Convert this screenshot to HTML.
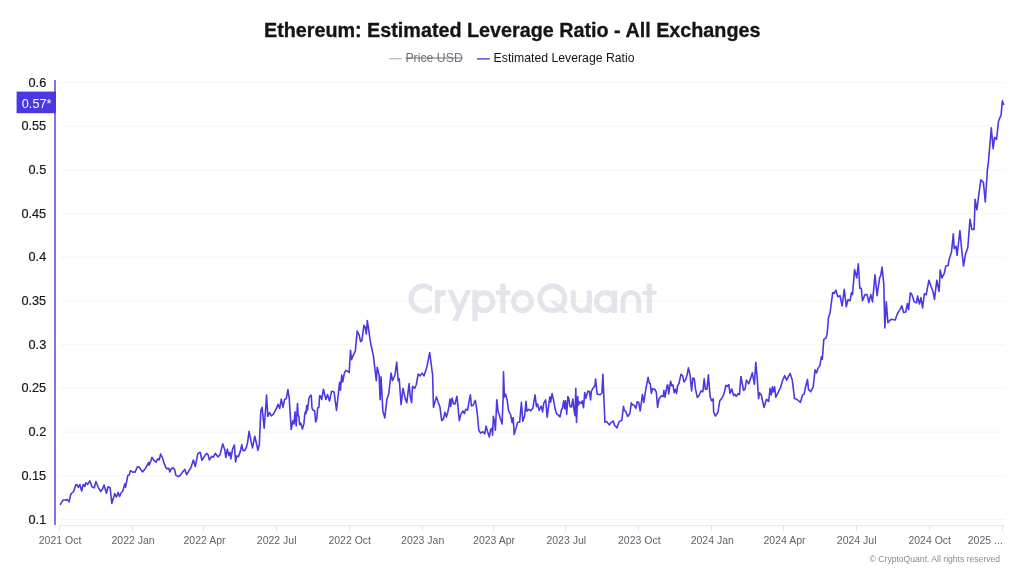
<!DOCTYPE html>
<html><head><meta charset="utf-8"><title>Ethereum: Estimated Leverage Ratio - All Exchanges</title>
<style>html,body{margin:0;padding:0;background:#fff;}body{width:1024px;height:576px;overflow:hidden;font-family:"Liberation Sans", sans-serif;}svg{display:block;will-change:transform}</style>
</head><body>
<svg width="1024" height="576" viewBox="0 0 1024 576">
<rect x="60" y="82.00" width="945" height="1" fill="#f5f5f8"/>
<rect x="60" y="125.70" width="945" height="1" fill="#f5f5f8"/>
<rect x="60" y="169.40" width="945" height="1" fill="#f5f5f8"/>
<rect x="60" y="213.10" width="945" height="1" fill="#f5f5f8"/>
<rect x="60" y="256.80" width="945" height="1" fill="#f5f5f8"/>
<rect x="60" y="300.50" width="945" height="1" fill="#f5f5f8"/>
<rect x="60" y="344.20" width="945" height="1" fill="#f5f5f8"/>
<rect x="60" y="387.90" width="945" height="1" fill="#f5f5f8"/>
<rect x="60" y="431.60" width="945" height="1" fill="#f5f5f8"/>
<rect x="60" y="475.30" width="945" height="1" fill="#f5f5f8"/>
<rect x="60" y="519.00" width="945" height="1" fill="#f5f5f8"/>
<g opacity="0.5"><clipPath id="cc"><rect x="400" y="270" width="32" height="60"/></clipPath><path clip-path="url(#cc)" d="M432.99 290.45 A12.45 12.45 0 1 0 432.99 306.45" fill="none" stroke="#c9c9d9" stroke-width="5.2"/><rect x="435" y="290" width="5.1" height="23.1" fill="#c9c9d9"/><path d="M437.55 299 Q437.55 292.7 445.7 292.7" fill="none" stroke="#c9c9d9" stroke-width="5.4"/><polygon points="465.7,290 471.3,290 457.7,321.1 452.1,321.1" fill="#c9c9d9"/><polygon points="447.3,290 452.9,290 462.1,311 456.5,311" fill="#c9c9d9"/><rect x="472.4" y="290" width="5.2" height="31.1" fill="#c9c9d9"/><circle cx="483.95" cy="301.55" r="8.95" fill="none" stroke="#c9c9d9" stroke-width="5.2"/><rect x="500.3" y="283.6" width="5.2" height="29.5" fill="#c9c9d9"/><rect x="496" y="290.4" width="14.3" height="4.8" fill="#c9c9d9"/><circle cx="522.4" cy="301.55" r="8.9" fill="none" stroke="#c9c9d9" stroke-width="5.2"/><circle cx="552.35" cy="298.4" r="12.35" fill="none" stroke="#c9c9d9" stroke-width="5.2"/><polygon points="550.2,301.2 555.8,301.2 568.5,312.9 562.5,312.9" fill="#c9c9d9"/><path d="M573.3 290.4 V302.7 A7.9 7.9 0 0 0 589.3 302.7 V290.4" fill="none" stroke="#c9c9d9" stroke-width="4.9"/><rect x="586.9" y="295" width="4.8" height="18.1" fill="#c9c9d9"/><circle cx="605.5" cy="301.55" r="8.9" fill="none" stroke="#c9c9d9" stroke-width="5.2"/><rect x="612" y="290.4" width="5.1" height="22.7" fill="#c9c9d9"/><path d="M623.1 313.1 V300.2 A7.75 7.75 0 0 1 638.7 300.2 V313.1" fill="none" stroke="#c9c9d9" stroke-width="4.9"/><rect x="646.7" y="283.6" width="5.2" height="29.5" fill="#c9c9d9"/><rect x="642.3" y="290.8" width="14.4" height="4.2" fill="#c9c9d9"/></g>
<rect x="59" y="525" width="946" height="1" fill="#e7e7ee"/>
<rect x="59" y="525" width="1" height="6" fill="#e2e2ea"/>
<text x="60.1" y="544.4" text-anchor="middle" font-family='"Liberation Sans", sans-serif' font-size="10.5" fill="#62626e">2021 Oct</text>
<rect x="132" y="525" width="1" height="6" fill="#e2e2ea"/>
<text x="133.1" y="544.4" text-anchor="middle" font-family='"Liberation Sans", sans-serif' font-size="10.5" fill="#62626e">2022 Jan</text>
<rect x="203" y="525" width="1" height="6" fill="#e2e2ea"/>
<text x="204.5" y="544.4" text-anchor="middle" font-family='"Liberation Sans", sans-serif' font-size="10.5" fill="#62626e">2022 Apr</text>
<rect x="276" y="525" width="1" height="6" fill="#e2e2ea"/>
<text x="276.7" y="544.4" text-anchor="middle" font-family='"Liberation Sans", sans-serif' font-size="10.5" fill="#62626e">2022 Jul</text>
<rect x="349" y="525" width="1" height="6" fill="#e2e2ea"/>
<text x="349.7" y="544.4" text-anchor="middle" font-family='"Liberation Sans", sans-serif' font-size="10.5" fill="#62626e">2022 Oct</text>
<rect x="422" y="525" width="1" height="6" fill="#e2e2ea"/>
<text x="422.7" y="544.4" text-anchor="middle" font-family='"Liberation Sans", sans-serif' font-size="10.5" fill="#62626e">2023 Jan</text>
<rect x="493" y="525" width="1" height="6" fill="#e2e2ea"/>
<text x="494.1" y="544.4" text-anchor="middle" font-family='"Liberation Sans", sans-serif' font-size="10.5" fill="#62626e">2023 Apr</text>
<rect x="565" y="525" width="1" height="6" fill="#e2e2ea"/>
<text x="566.3" y="544.4" text-anchor="middle" font-family='"Liberation Sans", sans-serif' font-size="10.5" fill="#62626e">2023 Jul</text>
<rect x="638" y="525" width="1" height="6" fill="#e2e2ea"/>
<text x="639.3" y="544.4" text-anchor="middle" font-family='"Liberation Sans", sans-serif' font-size="10.5" fill="#62626e">2023 Oct</text>
<rect x="711" y="525" width="1" height="6" fill="#e2e2ea"/>
<text x="712.3" y="544.4" text-anchor="middle" font-family='"Liberation Sans", sans-serif' font-size="10.5" fill="#62626e">2024 Jan</text>
<rect x="783" y="525" width="1" height="6" fill="#e2e2ea"/>
<text x="784.5" y="544.4" text-anchor="middle" font-family='"Liberation Sans", sans-serif' font-size="10.5" fill="#62626e">2024 Apr</text>
<rect x="856" y="525" width="1" height="6" fill="#e2e2ea"/>
<text x="856.7" y="544.4" text-anchor="middle" font-family='"Liberation Sans", sans-serif' font-size="10.5" fill="#62626e">2024 Jul</text>
<rect x="929" y="525" width="1" height="6" fill="#e2e2ea"/>
<text x="929.7" y="544.4" text-anchor="middle" font-family='"Liberation Sans", sans-serif' font-size="10.5" fill="#62626e">2024 Oct</text>
<rect x="1002" y="525" width="1" height="6" fill="#e2e2ea"/>
<text x="1002.8" y="544.4" text-anchor="end" font-family='"Liberation Sans", sans-serif' font-size="10.5" fill="#62626e">2025 ...</text>
<text x="46.2" y="86.5" text-anchor="end" font-family='"Liberation Sans", sans-serif' font-size="12.7" fill="#18181c" stroke="#18181c" stroke-width="0.2">0.6</text>
<text x="46.2" y="130.2" text-anchor="end" font-family='"Liberation Sans", sans-serif' font-size="12.7" fill="#18181c" stroke="#18181c" stroke-width="0.2">0.55</text>
<text x="46.2" y="173.9" text-anchor="end" font-family='"Liberation Sans", sans-serif' font-size="12.7" fill="#18181c" stroke="#18181c" stroke-width="0.2">0.5</text>
<text x="46.2" y="217.6" text-anchor="end" font-family='"Liberation Sans", sans-serif' font-size="12.7" fill="#18181c" stroke="#18181c" stroke-width="0.2">0.45</text>
<text x="46.2" y="261.3" text-anchor="end" font-family='"Liberation Sans", sans-serif' font-size="12.7" fill="#18181c" stroke="#18181c" stroke-width="0.2">0.4</text>
<text x="46.2" y="305.0" text-anchor="end" font-family='"Liberation Sans", sans-serif' font-size="12.7" fill="#18181c" stroke="#18181c" stroke-width="0.2">0.35</text>
<text x="46.2" y="348.7" text-anchor="end" font-family='"Liberation Sans", sans-serif' font-size="12.7" fill="#18181c" stroke="#18181c" stroke-width="0.2">0.3</text>
<text x="46.2" y="392.4" text-anchor="end" font-family='"Liberation Sans", sans-serif' font-size="12.7" fill="#18181c" stroke="#18181c" stroke-width="0.2">0.25</text>
<text x="46.2" y="436.1" text-anchor="end" font-family='"Liberation Sans", sans-serif' font-size="12.7" fill="#18181c" stroke="#18181c" stroke-width="0.2">0.2</text>
<text x="46.2" y="479.8" text-anchor="end" font-family='"Liberation Sans", sans-serif' font-size="12.7" fill="#18181c" stroke="#18181c" stroke-width="0.2">0.15</text>
<text x="46.2" y="523.5" text-anchor="end" font-family='"Liberation Sans", sans-serif' font-size="12.7" fill="#18181c" stroke="#18181c" stroke-width="0.2">0.1</text>
<rect x="54" y="80" width="2" height="445" fill="#8273ee"/>
<rect x="16.6" y="91.6" width="39.4" height="21.6" fill="#4b38e3"/>
<text x="21.8" y="107.6" font-family='"Liberation Sans", sans-serif' font-size="12.7" fill="#ffffff">0.57*</text>
<polyline points="60.4,504.3 62.9,500.1 64.6,500.0 67.2,499.6 69.1,501.8 70.6,494.7 71.9,493.0 73.6,491.5 75.9,484.5 77.2,485.1 78.4,487.3 79.8,484.5 81.7,491.0 83.2,484.5 84.9,486.5 85.7,482.8 87.7,484.3 89.8,480.9 92.2,487.0 94.3,487.7 95.9,481.5 98.2,487.3 100.7,491.5 102.2,489.6 104.1,485.1 106.4,493.3 108.0,486.8 110.1,487.7 111.8,503.5 114.8,493.5 116.5,497.1 118.2,492.4 119.6,496.4 121.0,493.0 122.7,491.3 124.8,483.9 125.5,487.3 127.8,475.5 129.2,474.9 130.4,470.7 132.9,472.1 135.1,472.1 137.4,466.7 139.1,467.0 142.5,471.9 145.3,468.7 148.7,462.5 149.2,465.3 152.1,457.4 153.9,460.3 155.9,462.2 157.8,458.8 159.1,460.0 160.6,454.1 162.5,458.0 164.1,463.4 166.4,468.6 168.8,468.4 169.8,472.0 171.1,468.9 173.1,467.7 174.7,469.7 175.8,475.2 178.1,476.7 180.5,475.2 182.5,472.0 184.7,469.4 186.7,474.7 189.1,470.5 190.9,467.7 193.4,460.0 195.3,466.6 197.7,454.1 199.2,452.5 200.3,452.5 201.9,460.3 203.9,457.2 206.6,453.3 208.1,454.8 209.4,460.0 211.7,456.4 213.3,457.2 215.3,453.3 218.0,456.9 220.0,454.8 222.7,443.9 224.7,449.4 225.8,457.5 227.3,449.1 228.9,455.6 230.0,452.2 230.9,458.8 232.5,449.4 234.4,445.0 235.6,462.0 236.7,456.0 238.4,456.6 240.1,452.1 241.8,444.7 242.9,450.4 244.6,450.6 246.3,447.5 247.4,443.6 249.1,431.4 250.8,440.2 252.5,447.9 254.8,436.2 256.5,443.6 257.9,450.4 259.3,444.7 260.8,410.8 262.1,407.4 264.2,428.3 266.6,395.0 267.8,416.5 269.5,412.5 271.2,415.9 273.4,414.2 274.8,411.4 276.4,408.5 278.0,404.4 279.7,408.5 281.3,399.1 283.0,407.4 284.6,399.5 286.3,398.6 287.9,389.6 289.2,397.8 291.2,429.5 292.9,420.9 294.0,423.9 295.0,411.8 296.2,425.9 297.5,403.6 298.1,415.3 298.9,416.3 299.6,424.8 300.5,422.9 301.3,424.8 302.4,429.1 303.9,423.9 304.8,413.9 305.5,411.5 306.1,413.4 306.7,405.6 307.4,410.5 308.2,405.0 308.9,398.1 310.8,395.1 311.3,395.7 312.0,408.1 313.4,410.5 314.7,410.7 315.6,422.0 316.8,418.9 317.7,407.7 318.9,407.2 319.6,395.7 320.6,396.2 321.7,399.5 323.4,389.2 325.9,399.5 327.5,394.5 329.5,401.1 331.6,391.2 334.1,392.0 336.5,410.5 339.6,382.4 340.4,390.2 341.7,375.1 342.7,381.9 344.3,373.5 345.8,370.4 347.9,371.5 349.2,372.5 350.5,350.2 351.5,359.7 353.4,354.9 355.3,351.1 357.2,331.1 359.1,334.9 360.6,341.6 361.9,340.6 363.9,325.4 365.2,327.3 366.3,334.0 367.3,320.6 368.6,329.2 370.5,342.5 373.4,355.9 376.3,380.7 377.2,367.3 379.1,375.0 380.1,399.8 381.0,376.9 382.9,411.2 384.8,417.9 386.8,399.8 388.7,394.1 391.1,373.1 392.5,380.7 395.0,375.0 396.7,362.0 398.2,380.7 399.2,378.8 401.1,404.6 403.0,388.3 405.3,398.8 406.8,402.6 409.1,383.6 410.2,396.0 411.6,402.6 412.5,386.4 414.8,388.3 416.3,384.5 418.2,374.0 420.2,375.9 422.1,373.1 424.0,375.9 426.8,367.3 429.7,352.5 432.6,375.0 433.5,407.4 436.4,396.9 438.3,402.6 439.9,406.7 441.7,420.6 443.3,419.2 445.0,412.2 446.4,417.1 447.8,412.2 448.9,406.7 450.0,399.0 450.7,406.4 452.1,398.1 453.5,403.9 455.1,403.9 456.9,396.3 457.9,405.3 459.3,420.6 460.7,415.0 462.8,410.8 464.4,413.6 465.8,409.2 467.6,410.1 469.0,401.4 470.4,394.9 471.4,406.0 473.2,405.3 475.3,400.4 476.4,406.7 477.4,415.0 478.8,430.3 480.6,433.1 482.9,431.7 484.7,433.8 486.1,426.1 487.5,431.4 489.4,436.9 490.6,429.6 491.9,428.2 492.6,435.1 493.3,416.4 494.4,420.6 495.4,430.3 496.8,399.7 498.2,412.2 499.2,414.3 500.3,418.5 502.1,424.0 503.1,398.3 503.5,371.7 504.4,396.9 505.6,394.2 507.2,400.4 508.6,410.8 510.7,415.0 512.1,422.6 513.2,417.5 514.2,434.4 515.8,428.9 517.6,422.6 519.7,421.9 521.4,402.2 522.8,421.2 524.6,416.1 526.0,401.4 526.9,411.1 528.8,409.4 530.8,410.8 532.9,408.1 535.0,394.9 536.5,406.7 537.6,404.1 539.1,410.3 541.1,406.0 542.6,411.9 543.7,403.4 545.6,399.9 547.2,417.1 549.8,396.9 550.6,402.1 552.1,393.6 554.1,402.8 555.0,408.6 556.7,413.9 558.5,415.2 560.0,416.9 561.5,409.5 562.4,408.6 563.7,400.8 564.7,408.6 565.6,400.8 566.7,414.3 567.9,396.5 568.9,398.7 569.9,406.5 571.5,406.9 572.8,399.1 573.7,407.8 575.0,415.6 575.8,388.2 576.5,422.5 577.7,396.5 578.4,405.2 579.7,402.1 581.5,403.4 582.3,400.8 583.5,407.8 584.7,392.6 585.8,398.2 587.8,391.3 589.3,391.3 590.6,400.0 591.3,391.3 593.2,387.8 594.8,386.1 595.6,379.0 597.1,393.9 600.1,394.8 601.9,393.0 602.9,374.4 604.9,422.3 606.8,421.6 609.2,424.9 611.4,422.3 613.3,421.0 614.6,425.5 617.0,427.8 619.2,421.6 621.8,420.3 623.5,406.4 624.4,410.6 625.7,411.2 627.7,416.4 629.9,413.5 631.3,402.8 632.5,405.0 634.1,405.0 635.9,408.4 637.2,401.9 638.7,402.3 640.2,411.0 642.4,394.6 643.8,402.5 645.9,388.6 648.1,377.3 649.3,383.1 650.2,383.3 651.4,393.4 652.3,388.9 654.8,389.4 656.3,392.2 657.6,407.4 659.0,398.9 661.5,395.8 663.3,396.5 663.9,390.4 665.1,397.1 666.9,386.1 667.8,384.9 668.7,394.0 670.6,381.3 671.8,385.8 673.0,384.9 674.2,392.8 675.4,389.2 676.6,393.4 677.5,386.1 679.1,383.1 680.9,374.3 682.7,375.8 683.9,381.9 685.8,379.4 687.2,374.6 688.4,367.9 690.0,374.6 691.6,391.0 692.8,378.0 694.3,378.8 695.5,389.2 697.3,397.4 699.1,395.5 700.9,391.0 702.8,391.8 704.2,378.8 705.4,389.2 707.0,389.2 708.4,374.8 710.1,396.5 711.5,400.7 713.1,398.9 713.7,412.2 715.5,416.1 718.0,412.2 719.8,400.7 722.2,397.7 724.1,393.4 725.9,385.3 727.4,386.3 728.8,384.6 730.0,393.4 731.8,389.0 733.6,395.6 734.7,394.2 736.2,396.4 738.0,393.7 739.5,394.6 740.9,376.5 743.6,390.5 745.1,389.0 746.5,380.1 748.8,383.8 751.0,376.9 752.4,372.8 754.4,384.3 755.8,362.2 756.9,374.2 758.6,398.6 759.5,392.7 761.3,394.9 764.0,407.4 766.5,399.3 768.7,401.5 770.1,388.3 771.3,394.9 772.4,386.8 773.4,391.9 774.6,386.8 775.8,397.1 777.8,393.1 780.5,387.5 782.7,380.1 784.6,375.7 786.7,380.1 788.1,377.2 790.1,373.5 792.3,380.1 794.5,398.6 796.7,399.3 798.2,400.5 800.4,402.3 802.6,394.9 804.1,394.2 805.5,387.2 807.5,379.4 808.5,389.7 810.7,391.7 813.2,386.8 815.1,369.8 816.6,372.8 818.1,368.1 820.0,365.4 821.3,356.7 822.3,359.2 823.8,339.4 825.8,338.3 827.1,334.2 828.5,317.5 830.0,313.3 832.7,292.5 834.2,293.5 835.8,290.0 837.9,296.7 840.0,295.6 842.1,306.0 844.2,289.4 846.3,306.7 847.9,299.8 850.0,300.8 851.5,292.5 852.5,294.6 854.6,269.6 856.7,277.9 858.3,263.8 859.8,288.3 861.3,288.3 862.5,300.8 865.0,294.6 867.1,294.6 868.8,302.5 870.8,294.6 872.5,301.9 875.0,274.8 877.1,295.6 879.6,277.9 880.6,275.8 882.1,267.1 883.8,284.2 884.8,327.9 886.3,301.9 887.9,322.7 891.0,319.2 895.2,320.0 896.8,315.3 898.4,311.9 900.0,309.6 901.8,305.8 903.6,312.5 905.8,311.9 907.4,303.5 908.6,309.6 910.4,292.7 911.9,294.5 914.2,301.7 916.5,302.8 917.6,296.0 919.4,304.0 921.0,297.6 922.6,308.0 924.4,293.8 926.2,294.9 928.9,280.2 931.2,287.0 933.0,291.5 934.5,299.4 936.8,280.2 939.1,291.5 940.2,270.1 942.0,278.0 944.3,273.4 945.8,266.0 948.1,265.5 949.2,259.2 951.5,252.0 953.3,233.9 954.2,248.6 956.0,246.3 957.1,255.4 959.9,230.5 961.7,249.7 963.5,266.0 965.5,254.2 967.8,247.5 970.0,219.2 971.8,229.4 974.1,229.4 975.1,199.4 976.9,209.8 978.2,199.4 980.8,179.8 982.1,181.1 983.4,182.4 985.3,202.0 987.3,170.7 988.6,160.3 991.3,127.8 993.1,148.6 994.6,137.4 996.5,139.5 998.5,121.3 1001.1,114.7 1002.4,100.9 1003.6,104.3" fill="none" stroke="#4b38e3" stroke-width="1.6" stroke-linejoin="round" stroke-linecap="round"/>
<text x="512.2" y="36.5" text-anchor="middle" font-family='"Liberation Sans", sans-serif' font-size="19.75" font-weight="700" fill="#141418" stroke="#141418" stroke-width="0.3">Ethereum: Estimated Leverage Ratio - All Exchanges</text>
<rect x="389.2" y="58" width="12.6" height="1.4" fill="#c0c0c8"/>
<text x="405.4" y="62" font-family='"Liberation Sans", sans-serif' font-size="12.3" fill="#72727e">Price USD</text>
<rect x="405.4" y="57.5" width="57" height="1" fill="#72727e"/>
<rect x="477" y="58" width="12.7" height="1.7" fill="#6f5fe8"/>
<text x="493.6" y="62" font-family='"Liberation Sans", sans-serif' font-size="12.25" fill="#141418">Estimated Leverage Ratio</text>
<text x="869.6" y="561.8" font-family='"Liberation Sans", sans-serif' font-size="8.6" fill="#8a8a96">© CryptoQuant. All rights reserved</text>
</svg>
</body></html>
